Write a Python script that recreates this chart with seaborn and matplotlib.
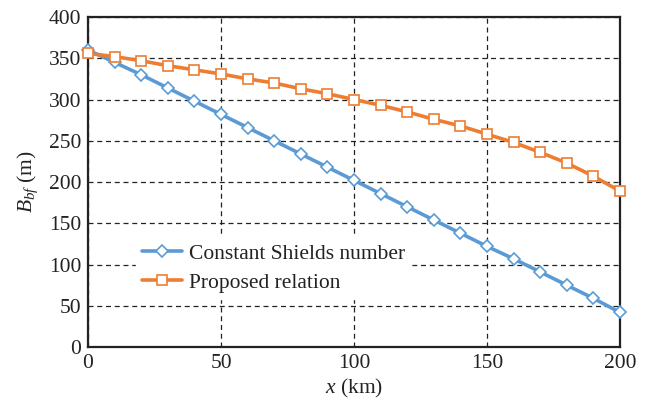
import matplotlib
matplotlib.use("Agg")
import matplotlib.pyplot as plt
import seaborn as sns
import pandas as pd

# Downstream distance (km) and bankfull width (m) for the two approaches
distance_km = [0, 10, 20, 30, 40, 50, 60, 70, 80, 90, 100,
               110, 120, 130, 140, 150, 160, 170, 180, 190, 200]
width_shields = [360, 345, 330, 314, 298, 282, 266, 250, 234, 218, 202,
                 186, 170, 154, 138, 122, 107, 91, 75, 59, 42]
width_proposed = [356, 352, 347, 341, 336, 331, 325, 320, 313, 307, 300,
                  293, 285, 276, 268, 258, 248, 236, 223, 207, 189]
series_names = ["Constant Shields number", "Proposed relation"]
x_ticks = [0, 50, 100, 150, 200]
y_ticks = [0, 50, 100, 150, 200, 250, 300, 350, 400]

sns.set_theme(style="white")
plt.rcParams["font.family"] = ["Liberation Serif", "DejaVu Serif"]
plt.rcParams["mathtext.fontset"] = "custom"
plt.rcParams["mathtext.rm"] = "Liberation Serif"
plt.rcParams["mathtext.it"] = "Liberation Serif:italic"

df = pd.DataFrame({
    "x": distance_km * 2,
    "B": width_shields + width_proposed,
    "series": [series_names[0]] * len(distance_km) + [series_names[1]] * len(distance_km),
})

fig = plt.figure(figsize=(6.52, 4.05), dpi=100)
ax = fig.add_axes([0.135, 0.143, 0.816, 0.815])

palette = {series_names[0]: "#5B9BD5", series_names[1]: "#ED7D31"}
markers = {series_names[0]: "D", series_names[1]: "s"}
sizes = {series_names[0]: 6.0, series_names[1]: 7.5}

for name in series_names:
    sub = df[df["series"] == name]
    sns.lineplot(data=sub, x="x", y="B", ax=ax, color=palette[name],
                 linewidth=2.6, marker=markers[name], markersize=sizes[name],
                 markerfacecolor="white", markeredgecolor=palette[name],
                 markeredgewidth=1.2, label=name, zorder=3, clip_on=False)

ax.set_xlim(0, 200)
ax.set_ylim(0, 400)
ax.set_xticks(x_ticks)
ax.set_yticks(y_ticks)
ax.tick_params(axis="both", labelsize=15.5, length=0, pad=5, colors="#222222")
ax.grid(True, color="#222222", linestyle=(0, (4, 3)), linewidth=0.9)
for s in ax.spines.values():
    s.set_color("#222222")
    s.set_linewidth(1.6)
    s.set_visible(True)

ax.set_xlabel("$x$ (km)", fontsize=15.5, color="#222222", labelpad=3)
ax.set_ylabel("$B_{bf}$ (m)", fontsize=15.5, color="#222222", labelpad=6)

leg = ax.legend(loc="lower left", bbox_to_anchor=(0.07, 0.112), fontsize=15.5,
                frameon=True, fancybox=False, borderpad=0.3, handlelength=1.85,
                handletextpad=0.3, labelspacing=0.42)
leg.get_frame().set_facecolor("white")
leg.get_frame().set_edgecolor("white")
leg.get_frame().set_alpha(1)
for t in leg.get_texts():
    t.set_color("#222222")

fig.savefig("out.png", dpi=100)
